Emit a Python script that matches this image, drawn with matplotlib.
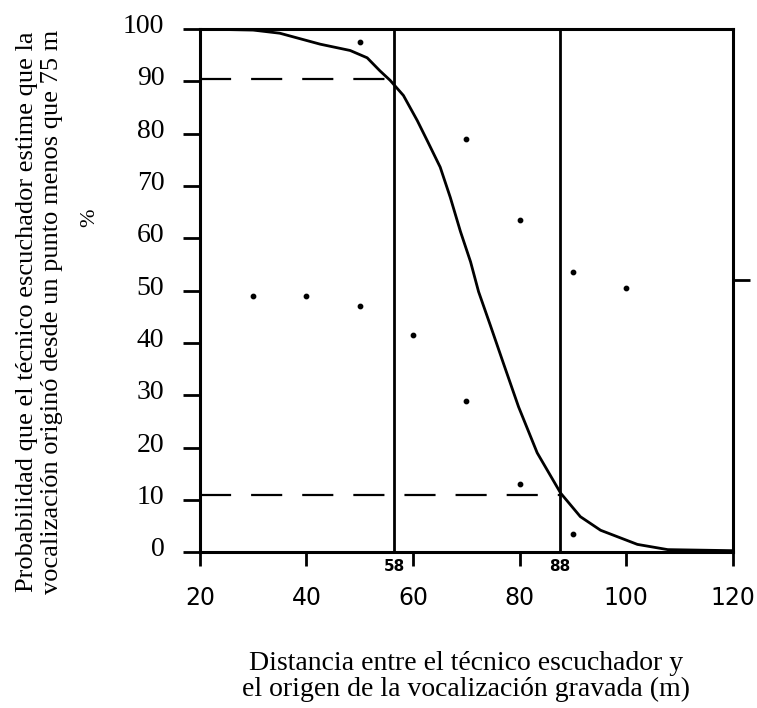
import matplotlib
matplotlib.use('Agg')
import matplotlib.pyplot as plt
from matplotlib.transforms import ScaledTranslation

# fitted probability curve
curve_x = [20, 30, 35.0, 42.6, 48.2, 51.4, 53.8, 55.7, 58.2, 60.8, 62.7,
           65.1, 67.0, 68.9, 70.8, 72.3, 74.5, 77.0, 79.8, 83.3, 87.7,
           91.4, 95.2, 102.1, 107.8, 120]
curve_y = [100, 99.8, 99.2, 97.1, 95.9, 94.5, 92.0, 90.2, 87.3, 82.5, 78.6,
           73.6, 67.8, 61.3, 55.5, 49.8, 43.4, 36.0, 27.8, 19.0, 11.3,
           6.8, 4.2, 1.5, 0.5, 0.3]

# observed proportions
obs_x = [30, 40, 50, 50, 60, 70, 70, 80, 80, 90, 90, 100]
obs_y = [49, 49, 97.5, 47, 41.5, 79, 29, 63.5, 13, 53.5, 3.5, 50.5]

# cut-off distances and the probabilities they correspond to
cut_x = [56.5, 87.5]
cut_labels = ['58', '88']
cut_prob = [90.5, 11]

x_ticks = [20, 40, 60, 80, 100, 120]
y_ticks = list(range(0, 101, 10))

serif = 'Liberation Serif'

fig = plt.figure(figsize=(7.57, 7.08), dpi=100)
ax = fig.add_axes([0.264, 0.22, 0.704, 0.739])

ax.plot(curve_x, curve_y, color='black', lw=2.0, solid_joinstyle='round')
ax.scatter(obs_x, obs_y, s=10, color='black', zorder=3)

for cx in cut_x:
    ax.axvline(cx, color='black', lw=2.0)
for cx, cp in zip(cut_x, cut_prob):
    ax.plot([20, cx], [cp, cp], color='black', lw=1.6, dashes=(14, 9))
for cx, lab in zip(cut_x, cut_labels):
    ax.text(cx, -1.3, lab, ha='center', va='top', fontsize=11,
            fontweight='bold', family='DejaVu Sans Condensed')

ax.set_xlim(20, 120)
ax.set_ylim(0, 100)
ax.set_xticks(x_ticks)
ax.set_yticks(y_ticks)
ax.set_xticklabels([str(v) for v in x_ticks], fontsize=17)
ax.set_yticklabels([str(v) for v in y_ticks], fontsize=20, family=serif)
ax.tick_params(axis='y', direction='out', length=12.5, width=2, pad=13)
ax.tick_params(axis='x', direction='out', length=10, width=2, pad=14)
# the scanned y labels sit a little above their ticks
for lab in ax.get_yticklabels():
    lab.set_transform(lab.get_transform()
                      + ScaledTranslation(0, 4 / 72, fig.dpi_scale_trans))
for sp in ax.spines.values():
    sp.set_linewidth(2.2)

# stray tick on the right edge
ax_r = ax.twinx()
ax_r.set_ylim(0, 100)
ax_r.set_yticks([52])
ax_r.set_yticklabels([''])
ax_r.tick_params(axis='y', direction='out', length=12, width=2)
for sp in ax_r.spines.values():
    sp.set_visible(False)

fig.text(0.052, 0.559,
         'Probabilidad que el técnico escuchador estime que la\n'
         'vocalización originó desde un punto menos que 75 m',
         rotation=90, ha='center', va='center', fontsize=19,
         family=serif, linespacing=1.2)
fig.text(0.119, 0.692, '%', rotation=90, ha='center', va='center',
         fontsize=16, family=serif)

fig.text(0.616, 0.045,
         'Distancia entre el técnico escuchador y\n'
         'el origen de la vocalización gravada (m)',
         ha='center', va='center', fontsize=20, family=serif,
         linespacing=1.05)

fig.savefig('out.png', dpi=100)
